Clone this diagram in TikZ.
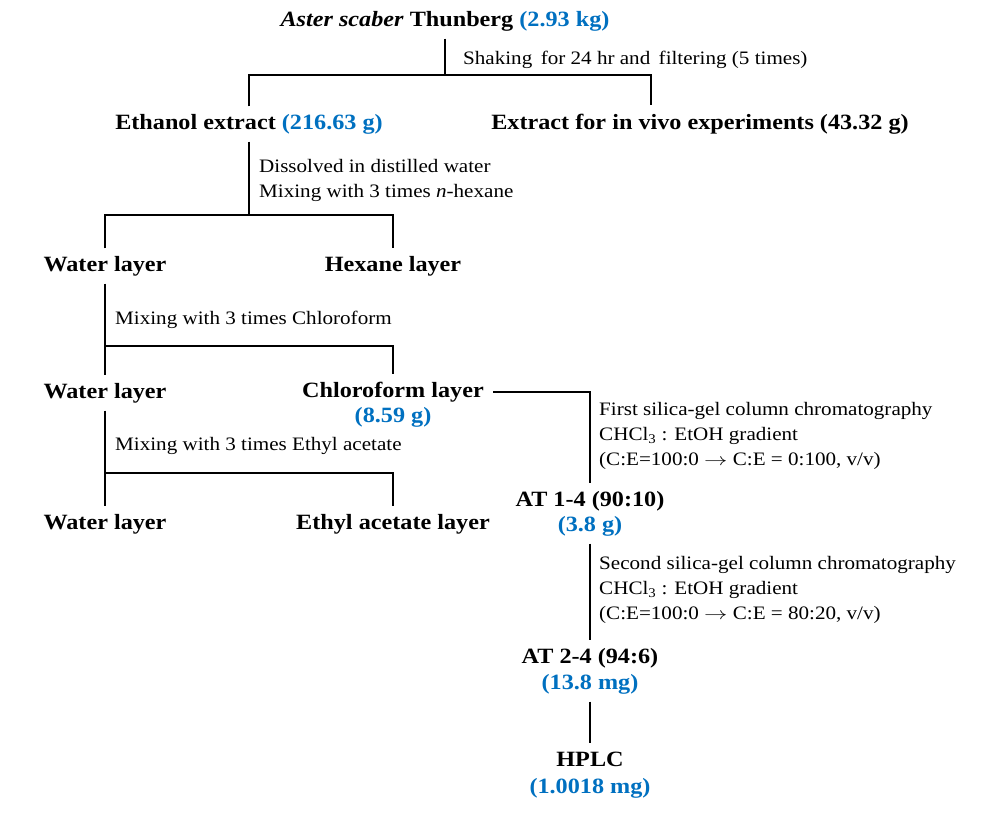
\documentclass[tikz,border=0pt]{standalone}
\usepackage{fontspec}
\setmainfont{Liberation Serif}[FakeStretch=1.11]
\definecolor{massblue}{RGB}{0,112,192}
\newcommand{\gradto}{\scalebox{1.35}[1]{$\rightarrow$}}

\begin{document}
\begin{tikzpicture}[x=1pt,y=-1pt]
  \tikzset{stage/.style = {font=\fontsize{21.8}{25}\selectfont\bfseries, text height=15pt, text depth=4pt, inner xsep=9pt, inner ysep=8pt}}
  \tikzset{mass/.style = {stage, text=massblue}}
  \tikzset{note/.style = {font=\fontsize{19}{25}\selectfont, align=left, anchor=west, inner sep=0pt}}
  \tikzset{link/.style = {line width=2pt}}

  \useasboundingbox (0,0) rectangle (982,817);

  % Extraction
  \node [stage] (plant) at (445,21) {\textit{Aster scaber} Thunberg \textcolor{massblue}{(2.93 kg)}};
  \node [stage] (ethanol) at (249,124) {Ethanol extract \textcolor{massblue}{(216.63 g)}};
  \node [stage] (invivo) at (700,124) {Extract for in vivo experiments (43.32 g)};
  \coordinate (split1) at (445,75);
  \coordinate (invivoend) at (651,105);
  \draw[link] (plant.south) -- (split1);
  \draw[link] (ethanol.north) |- (split1) -| (invivoend);
  \node [note] (shaking) at (463,60) {Shaking\, for 24 hr and\, filtering (5 times)};

  % Partition
  \node [stage] (water1) at (105,266) {Water layer};
  \node [stage] (hexane) at (393,266) {Hexane layer};
  \node [stage] (water2) at (105,393) {Water layer};
  \node [stage] (chloro) at (393,392) {Chloroform layer};
  \node [mass] (chloromass) at ([yshift=-25pt]chloro) {(8.59 g)};
  \node [stage] (water3) at (105,524) {Water layer};
  \node [stage] (ethyl) at (393,524) {Ethyl acetate layer};
  \coordinate (split2) at (249,215);
  \coordinate (split3) at (105,346);
  \coordinate (split4) at (105,473);
  \draw[link] (ethanol.south) -- (split2);
  \draw[link] (water1.north) |- (split2) -| (hexane.north);
  \draw[link] (water1.south) -- (water2.north);
  \draw[link] (split3) -| (chloro.north);
  \draw[link] (water2.south) -- (water3.north);
  \draw[link] (split4) -| (ethyl.north);
  \node [note] (dissolve) at (259,180.5) {Dissolved in distilled water\\Mixing with 3 times \textit{n}-hexane};
  \node [note] (chloromix) at (115,320) {Mixing with 3 times Chloroform};
  \node [note] (ethylmix) at (115,446) {Mixing with 3 times Ethyl acetate};

  % Chromatography
  \node [stage] (at14) at (590,501) {AT 1-4 (90:10)};
  \node [mass] (at14mass) at ([yshift=-25pt]at14) {(3.8 g)};
  \node [stage] (at24) at (590,658) {AT 2-4 (94:6)};
  \node [mass] (at24mass) at ([yshift=-26pt]at24) {(13.8 mg)};
  \node [stage] (hplc) at (590,761) {HPLC};
  \node [mass] (hplcmass) at ([yshift=-27pt]hplc) {(1.0018 mg)};
  \draw[link] (chloro.east) -| (at14.north);
  \draw[link] (at14mass.south) -- (at24.north);
  \draw[link] (at24mass.south) -- (hplc.north);
  \node [note] (column1) at (599,436) {First silica-gel column chromatography\\CHCl\textsubscript{3} : EtOH gradient\\(C:E=100:0 \gradto{} C:E = 0:100, v/v)};
  \node [note] (column2) at (599,590) {Second silica-gel column chromatography\\CHCl\textsubscript{3} : EtOH gradient\\(C:E=100:0 \gradto{} C:E = 80:20, v/v)};
\end{tikzpicture}
\end{document}
